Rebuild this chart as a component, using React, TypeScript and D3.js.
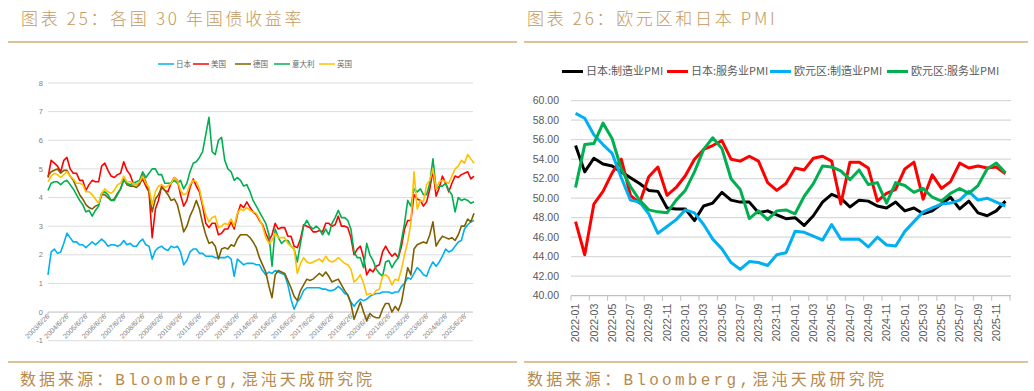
import * as d3 from "d3";

// ---- left chart: 30Y government bond yields (bimonthly readings from 2003-06-26) ----
const yieldSeries = ["日本", "美国", "德国", "意大利", "英国"];
const yieldColors = ["#00b0f0", "#ff0000", "#7f6000", "#00b050", "#ffc000"];

const japan = [
  1.3, 2.1, 2.2, 2.05,
  2.1, 2.4, 2.75, 2.6, 2.45, 2.45,
  2.35, 2.35, 2.25, 2.35, 2.45, 2.35,
  2.45, 2.55, 2.45, 2.3, 2.35, 2.35,
  2.3, 2.35, 2.5, 2.35, 2.4, 2.3,
  2.3, 2.45, 2.55, 2.35, 2.3, 1.85,
  2.15, 2.25, 2.3, 2.2, 2.15, 2.3,
  2.25, 2.3, 2.1, 1.65, 1.8, 2.1,
  2.2, 2.2, 2.05, 2.05, 1.95, 1.95,
  1.95, 1.9, 1.9, 1.9, 1.9, 1.95,
  1.85, 1.25, 1.85, 1.75, 1.65, 1.7,
  1.7, 1.7, 1.65, 1.65, 1.45, 1.3,
  1.4, 1.35, 1.45, 1.4, 1.35, 1.3,
  0.95, 0.45, 0.1, 0.35, 0.5, 0.75,
  0.85, 0.85, 0.85, 0.85, 0.85, 0.8,
  0.8, 0.75, 0.75, 0.8, 0.9, 0.8,
  0.65, 0.6, 0.35, 0.2, 0.35, 0.45,
  0.4, 0.45, 0.55, 0.6, 0.65, 0.65,
  0.7, 0.7, 0.7, 0.65, 0.7, 0.7,
  0.9, 1.0, 1.2, 1.15, 1.35, 1.55,
  1.45, 1.3, 1.25, 1.55, 1.75, 1.6,
  1.75, 1.95, 2.2, 2.1, 2.15, 2.3,
  2.45, 2.5, 2.9, 3.05, 3.15, 3.2,
];

const usa = [
  4.7, 5.3, 5.2, 5.1,
  4.9, 5.3, 5.4, 5.0, 4.85, 4.85,
  4.6, 4.6, 4.25, 4.45, 4.6, 4.55,
  4.55, 5.1, 5.2, 4.95, 4.75, 4.7,
  4.8, 4.85, 5.25, 4.95, 4.8, 4.5,
  4.45, 4.5, 4.65, 4.4, 4.2, 2.6,
  3.6, 3.9, 4.4, 4.25, 4.2, 4.5,
  4.7, 4.6, 4.1, 3.7, 3.9, 4.35,
  4.65, 4.4, 4.2, 3.7, 3.1, 2.95,
  3.1, 3.1, 2.7, 2.75, 2.9, 2.9,
  3.15, 2.9, 3.4, 3.75, 3.65, 3.85,
  3.65, 3.5, 3.4, 3.2, 3.05, 2.75,
  2.5, 2.7, 3.1, 2.9, 2.95, 2.95,
  2.65, 2.65, 2.3, 2.25, 2.55, 3.05,
  3.0, 2.95, 2.8, 2.8, 2.85, 2.8,
  3.1, 3.1, 3.0, 3.05, 3.35, 3.0,
  3.0, 2.95, 2.6, 2.0, 2.2, 2.3,
  1.9, 1.3, 1.5, 1.4, 1.6, 1.65,
  2.1, 2.3, 2.1, 1.95, 2.05, 1.9,
  2.3, 2.9, 3.2, 3.2, 4.1, 3.95,
  3.9, 3.7, 3.85, 4.3, 4.95, 4.05,
  4.35, 4.75, 4.5, 4.2, 4.5, 4.75,
  4.7, 4.8, 4.85, 4.9, 4.65, 4.75,
];

const germany = [
  4.75, 4.9, 4.95, 5.0,
  4.85, 4.95, 4.95, 4.75, 4.6, 4.35,
  4.1, 3.95, 3.75, 3.65, 3.6, 3.7,
  3.75, 4.1, 4.1, 4.0, 3.9, 3.95,
  4.15, 4.3, 4.65, 4.45, 4.4, 4.4,
  4.35, 4.45, 4.8, 4.55, 4.2, 3.5,
  3.95, 4.1, 4.35, 4.25, 4.1, 3.9,
  3.95, 3.75, 3.3, 2.8, 3.0, 3.35,
  3.6, 3.9, 3.6, 3.1, 2.7, 2.4,
  2.45, 2.3, 1.85, 2.2, 2.25, 2.2,
  2.35, 2.3, 2.55, 2.7, 2.7, 2.7,
  2.6, 2.45, 2.25, 1.9, 1.65, 1.4,
  0.9, 0.5, 1.3, 1.45, 1.4, 1.35,
  1.1, 0.85, 0.55, 0.4, 0.75, 0.95,
  1.15, 1.1, 1.15, 1.25, 1.35, 1.25,
  1.4, 1.25, 1.05, 1.1, 1.15, 0.95,
  0.75, 0.6, 0.3, -0.25, 0.05, 0.35,
  0.0, -0.3, -0.05, -0.15, -0.2, -0.2,
  0.1, 0.3, 0.3, 0.0, 0.2, 0.05,
  0.35, 0.95, 1.55, 1.3, 2.2, 2.35,
  2.4, 2.45, 2.4, 2.7, 3.15, 2.3,
  2.5, 2.65, 2.6, 2.55, 2.6, 2.5,
  2.7, 3.0, 3.0, 3.25, 3.15, 3.45,
];

const italy = [
  4.25, 4.5, 4.55, 4.55,
  4.45, 4.55, 4.6, 4.45, 4.3, 4.1,
  3.9, 3.75, 3.5, 3.55, 3.35, 3.55,
  3.7, 4.15, 4.2, 4.1, 3.9, 3.9,
  4.1, 4.3, 4.6, 4.5, 4.45, 4.5,
  4.55, 4.6, 4.9, 4.7, 4.85, 5.0,
  5.0, 4.8, 4.8, 4.5, 4.5, 4.5,
  4.6, 4.5, 4.6, 4.3, 4.5, 4.9,
  5.2, 5.25, 5.4, 5.6, 6.2, 6.8,
  5.6, 5.5, 6.0, 6.1, 5.3, 5.0,
  4.9, 4.6, 4.7, 4.6, 4.4, 4.45,
  4.2, 3.9, 3.7, 3.5, 3.3, 3.1,
  2.7, 1.6, 2.9, 2.6, 2.4, 2.5,
  2.5, 2.3, 2.2, 1.75, 2.4, 3.0,
  3.2, 3.0, 2.9, 3.0, 2.9, 2.7,
  2.9, 2.7, 3.1, 3.3, 3.55, 3.3,
  3.3, 3.2, 2.9, 2.1, 1.9, 1.9,
  1.55, 2.4, 2.0, 1.8, 1.5, 1.35,
  1.25, 1.75, 1.8, 1.55, 1.75, 1.9,
  2.5, 3.1, 3.9, 3.7, 4.3, 4.2,
  4.3, 4.1, 4.1, 4.5, 5.35, 4.3,
  4.4, 4.4, 4.5, 4.25, 4.1, 3.5,
  4.0, 3.9, 3.95, 3.9, 3.8, 3.85,
];

const uk = [
  4.55, 4.75, 4.85, 4.8,
  4.7, 4.8, 4.9, 4.75, 4.65, 4.5,
  4.5, 4.45, 4.2, 4.2, 4.1, 3.95,
  3.8, 4.15, 4.3, 4.2, 4.15, 4.25,
  4.45, 4.5, 4.75, 4.55, 4.55, 4.5,
  4.45, 4.55, 4.75, 4.5, 4.35, 3.75,
  4.2, 4.4, 4.45, 4.35, 4.4, 4.5,
  4.7, 4.6, 4.25, 4.1, 4.15, 4.45,
  4.6, 4.55, 4.3, 3.8, 3.4, 3.15,
  3.3, 3.35, 2.95, 3.0, 3.1, 3.05,
  3.25, 3.0, 3.45, 3.6, 3.55, 3.65,
  3.55, 3.5, 3.45, 3.25, 3.0, 2.6,
  2.4, 2.5, 2.75, 2.6, 2.6, 2.6,
  2.4, 2.3, 2.2, 1.35, 1.7, 1.9,
  1.75, 1.7, 1.75, 1.8, 1.85, 1.75,
  1.95, 1.8, 1.75, 1.8, 1.9, 1.8,
  1.7, 1.65, 1.5, 1.05, 1.15, 1.3,
  1.0, 0.6, 0.65, 0.6, 0.75, 0.8,
  1.25, 1.3, 1.2, 0.95, 1.15, 1.1,
  1.5, 2.0, 2.45, 3.1, 4.9, 3.6,
  3.9, 3.85, 4.45, 4.6, 5.0, 4.3,
  4.55, 4.6, 4.55, 4.5, 4.75, 5.0,
  5.1, 5.3, 5.2, 5.5, 5.35, 5.2,
];

const yieldValues = [japan, usa, germany, italy, uk];
const yieldTicks = [8, 7, 6, 5, 4, 3, 2, 1, 0, -1];

// ---- right chart: PMI ----
const pmiSeries = ["日本:制造业PMI", "日本:服务业PMI", "欧元区:制造业PMI", "欧元区:服务业PMI"];
const pmiColors = ["#000000", "#ff0000", "#00b0f0", "#00b050"];
const pmiYears = [2022, 2023, 2024, 2025];
const pmiMonthNames = ["01", "02", "03", "04", "05", "06", "07", "08", "09", "10", "11", "12"];
const months = pmiYears.flatMap((y) => pmiMonthNames.map((m) => `${y}-${m}`));

const jpMfg = [
  55.4, 52.7, 54.1, 53.5, 53.3, 52.7, 52.1, 51.5, 50.8, 50.7, 49.0, 48.9,
  48.9, 47.7, 49.2, 49.5, 50.6, 49.8, 49.6, 49.6, 48.5, 48.7, 48.3, 47.9,
  48.0, 47.2, 48.2, 49.6, 50.4, 50.0, 49.1, 49.8, 49.7, 49.2, 49.0, 49.6,
  48.7, 49.0, 48.4, 48.7, 49.4, 50.1, 48.9, 49.7, 48.5, 48.2, 48.7, 49.7,
];
const jpSvc = [
  47.6, 44.2, 49.4, 50.7, 52.6, 54.0, 50.3, 49.5, 52.2, 53.2, 50.3, 51.1,
  52.3, 54.0, 55.0, 55.4, 55.9, 54.0, 53.8, 54.3, 53.8, 51.6, 50.8, 51.5,
  53.1, 52.9, 54.1, 54.3, 53.8, 49.4, 53.7, 53.7, 53.1, 49.7, 50.5, 50.9,
  53.0, 53.7, 49.9, 52.4, 51.0, 51.7, 53.6, 53.1, 53.3, 53.1, 53.2, 52.5,
];
const euMfg = [
  58.7, 58.2, 56.5, 55.5, 54.6, 52.1, 49.8, 49.6, 48.4, 46.4, 47.1, 47.8,
  48.8, 48.5, 47.3, 45.8, 44.8, 43.4, 42.7, 43.5, 43.4, 43.1, 44.2, 44.4,
  46.6, 46.5, 46.1, 45.7, 47.3, 45.8, 45.8, 45.8, 45.0, 46.0, 45.2, 45.1,
  46.6, 47.6, 48.6, 49.0, 49.4, 49.5, 49.8, 50.7, 49.8, 50.0, 49.6, 49.2,
];
const euSvc = [
  51.1, 55.5, 55.6, 57.7, 56.1, 53.0, 51.2, 49.8, 48.8, 48.6, 48.5, 49.8,
  50.8, 52.7, 55.0, 56.2, 55.1, 52.0, 50.9, 47.9, 48.7, 47.8, 48.7, 48.8,
  48.4, 50.2, 51.5, 53.3, 53.2, 52.8, 51.9, 52.9, 51.4, 51.6, 49.5, 51.6,
  51.3, 50.6, 51.0, 50.1, 49.7, 50.5, 51.0, 50.5, 51.3, 53.0, 53.6, 52.6,
];
const pmiValues = [jpMfg, jpSvc, euMfg, euSvc];
const pmiTicks = [60, 58, 56, 54, 52, 50, 48, 46, 44, 42, 40];

const SANS = "'Liberation Sans', 'Noto Sans CJK SC', sans-serif";
const CJK = "'Noto Sans CJK SC', sans-serif";
const MONO = "'Liberation Mono', 'Noto Sans CJK SC', monospace";
const GOLD = "#c29a5e";
const RULE = "#cfae78";

const start = new Date(2003, 5, 26);
const dates = japan.map((_, i) => d3.timeMonth.offset(start, i * 2));
const yearTicks = d3.range(2003, 2026).map((y) => new Date(y, 5, 26));

function LeftChart() {
  const x = d3.scaleTime().domain([start, new Date(2025, 11, 26)]).range([48, 474]);
  const y = d3.scaleLinear().domain([-1, 8]).range([340.7, 83]);
  const line = d3
    .line<number>()
    .x((_, i) => x(dates[i]))
    .y((d) => y(d));
  const legendX = [158, 193, 235, 274, 319];
  return (
    <g>
      {yieldTicks.map((t) => (
        <g key={t}>
          <line x1={48} x2={473} y1={y(t)} y2={y(t)} stroke={t === 0 ? "#bfbfbf" : "#dcdcdc"} strokeWidth={1} />
          <text x={43} y={y(t)} dy="0.35em" textAnchor="end" fontSize={7.5} fill="#808080" fontFamily={SANS}>
            {t}
          </text>
        </g>
      ))}
      {yearTicks.map((d) => (
        <g key={+d}>
          <line x1={x(d)} x2={x(d)} y1={y(0)} y2={y(0) + 3} stroke="#bfbfbf" />
          <text
            transform={`translate(${x(d) + 2},${y(0) + 5}) rotate(-45)`}
            textAnchor="end"
            fontSize={7}
            fill="#808080"
            fontFamily={SANS}
          >
            {d3.timeFormat("%Y/%-m/%-d")(d)}
          </text>
        </g>
      ))}
      {yieldValues.map((vals, k) => (
        <path key={k} d={line(vals) || ""} fill="none" stroke={yieldColors[k]} strokeWidth={1.6} strokeLinejoin="round" />
      ))}
      {yieldSeries.map((s, k) => (
        <g key={s}>
          <line x1={legendX[k]} x2={legendX[k] + 16} y1={64} y2={64} stroke={yieldColors[k]} strokeWidth={1.5} />
          <text x={legendX[k] + 18} y={64} dy="0.35em" fontSize={7.5} fill="#666" fontFamily={CJK}>
            {s}
          </text>
        </g>
      ))}
    </g>
  );
}

function RightChart() {
  const x = d3.scaleBand().domain(months).range([571, 1010]);
  const bw = x.bandwidth();
  const y = d3.scaleLinear().domain([40, 60]).range([295.7, 100.7]);
  const line = d3
    .line<number>()
    .x((_, i) => (x(months[i]) as number) + bw / 2)
    .y((d) => y(d));
  const legendX = [562, 667, 770, 887];
  return (
    <g>
      {pmiTicks.map((t) => (
        <g key={t}>
          <line x1={571} x2={1011} y1={y(t)} y2={y(t)} stroke={t === 40 ? "#bfbfbf" : "#d9d9d9"} strokeWidth={1.3} />
          <text x={559} y={y(t)} dy="0.35em" textAnchor="end" fontSize={10.5} fill="#595959" fontFamily={SANS}>
            {t.toFixed(2)}
          </text>
        </g>
      ))}
      {months.map((m, i) =>
        i % 2 === 0 ? (
          <g key={m}>
            <line x1={x(m)} x2={x(m)} y1={y(40)} y2={y(40) + 5} stroke="#bfbfbf" />
            <text
              transform={`translate(${(x(m) as number) + bw / 2},${y(40) + 8}) rotate(-90)`}
              textAnchor="end"
              dy="0.35em"
              fontSize={10.5}
              fill="#595959"
              fontFamily={SANS}
            >
              {m}
            </text>
          </g>
        ) : null
      )}
      <line x1={1010} x2={1010} y1={y(40)} y2={y(40) + 5} stroke="#bfbfbf" />
      {pmiValues.map((vals, k) => (
        <path key={k} d={line(vals) || ""} fill="none" stroke={pmiColors[k]} strokeWidth={3} strokeLinejoin="round" />
      ))}
      {pmiSeries.map((s, k) => (
        <g key={s}>
          <line x1={legendX[k]} x2={legendX[k] + 21} y1={71.5} y2={71.5} stroke={pmiColors[k]} strokeWidth={3} />
          <text x={legendX[k] + 24} y={71.5} dy="0.35em" fontSize={11} fill="#595959" fontFamily={CJK}>
            {s}
          </text>
        </g>
      ))}
    </g>
  );
}

export default function App() {
  return (
    <div style={{ position: "absolute", left: 0, top: 0 }}>
      <svg width={1034} height={391} style={{ display: "block", background: "#fff" }}>
        <text x={21} y={25} fontSize={17} fill={GOLD} fontFamily={CJK} fontWeight={300} letterSpacing={2.7}>
          图表 25：各国 30 年国债收益率
        </text>
        <text x={527} y={25} fontSize={17} fill={GOLD} fontFamily={CJK} fontWeight={300} letterSpacing={2.7}>
          图表 26：欧元区和日本 PMI
        </text>
        <line x1={8} x2={517} y1={42} y2={42} stroke={RULE} strokeWidth={1.5} />
        <line x1={524} x2={1028} y1={42} y2={42} stroke={RULE} strokeWidth={1.5} />
        <LeftChart />
        <RightChart />
        <line x1={8} x2={517} y1={362} y2={362} stroke={RULE} strokeWidth={1.5} />
        <line x1={524} x2={1028} y1={362} y2={362} stroke={RULE} strokeWidth={1.5} />
        <text x={20} y={385} fontSize={16} fill="#b8894c" fontFamily={MONO} textLength={352} lengthAdjust="spacing">
          数据来源：Bloomberg,混沌天成研究院
        </text>
        <text x={527} y={385} fontSize={16} fill="#b8894c" fontFamily={MONO} textLength={357} lengthAdjust="spacing">
          数据来源：Bloomberg,混沌天成研究院
        </text>
      </svg>
    </div>
  );
}
